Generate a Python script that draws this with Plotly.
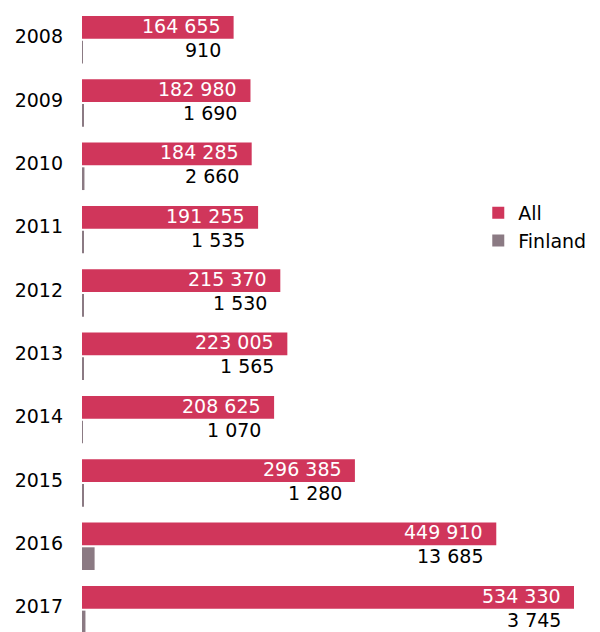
import plotly.graph_objects as go

years = ["2008", "2009", "2010", "2011", "2012", "2013", "2014", "2015", "2016", "2017"]
all_values = [164655, 182980, 184285, 191255, 215370, 223005, 208625, 296385, 449910, 534330]
finland_values = [910, 1690, 2660, 1535, 1530, 1565, 1070, 1280, 13685, 3745]

RED = "#d0365b"
GREY = "#8b7a83"
FONT = "DejaVu Sans"


def fmt(v):
    return f"{v:,}".replace(",", " ")


fig = go.Figure()
fig.add_trace(go.Bar(name="All", y=years, x=all_values, orientation="h",
                     marker=dict(color=RED, line=dict(width=0)), hoverinfo="x+y"))
fig.add_trace(go.Bar(name="Finland", y=years, x=finland_values, orientation="h",
                     marker=dict(color=GREY, line=dict(width=0)), hoverinfo="x+y"))

# value labels, right-aligned just inside the end of the "All" bar;
# y uses the category index of each year on the category axis
annotations = []
for i, (a, f) in enumerate(zip(all_values, finland_values)):
    annotations.append(dict(x=a, y=i, xref="x", yref="y", text=fmt(a),
                            xanchor="right", yanchor="middle", xshift=-11, yshift=14,
                            showarrow=False, font=dict(family=FONT, size=19, color="white")))
    annotations.append(dict(x=a, y=i, xref="x", yref="y", text=fmt(f),
                            xanchor="right", yanchor="middle", xshift=-11, yshift=-10,
                            showarrow=False, font=dict(family=FONT, size=19, color="black")))

fig.update_layout(
    width=600, height=632,
    margin=dict(l=82, r=0, t=8, b=0),
    paper_bgcolor="white", plot_bgcolor="white",
    barmode="group", bargap=0.22, bargroupgap=0.08,
    font=dict(family=FONT, size=19, color="black"),
    xaxis=dict(visible=False, range=[0, 562567], fixedrange=True),
    yaxis=dict(type="category", categoryorder="array", categoryarray=years,
               range=[9.353, -0.5], showgrid=False, zeroline=False,
               showline=False, ticks="", ticklabelstandoff=18, ticklabelshift=3,
               tickfont=dict(family=FONT, size=19, color="black")),
    legend=dict(x=0.765, y=0.702, xanchor="left", yanchor="top",
                font=dict(family=FONT, size=19, color="black"),
                itemwidth=30, tracegroupgap=0, bgcolor="rgba(0,0,0,0)"),
    showlegend=True,
)
for ann in annotations:
    fig.add_annotation(**ann)

fig.write_html("out.html")
